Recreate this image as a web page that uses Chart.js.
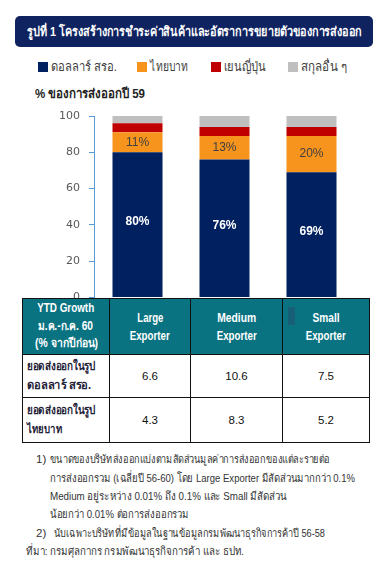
<!DOCTYPE html>
<html>
<head>
<meta charset="utf-8">
<script src="https://cdn.jsdelivr.net/npm/chart.js@4.4.0/dist/chart.umd.min.js"></script>
<style>
  html, body { margin: 0; padding: 0; background: #fff; }
  body { width: 387px; height: 572px; position: relative; overflow: hidden; font-family: "Liberation Sans", "Noto Sans", sans-serif; }
  [data-w] { white-space: nowrap; display: inline-block; transform-origin: left center; }
  .center [data-w] { transform-origin: center center; }
  .title { position: absolute; left: 15px; top: 16px; width: 358px; height: 31px; background: #0f2361; border-radius: 5px;
    color: #fff; font-weight: bold; font-size: 13px; line-height: 31px; white-space: nowrap; overflow: hidden; }
  .title span { position: absolute; left: 12px; top: 0; }
  .legend { position: absolute; top: 59px; left: 0; width: 387px; height: 16px; }
  .legend span { position: absolute; font-size: 13px; color: #404040; line-height: 16px; top: 0; }
  .legend i { position: absolute; width: 10px; height: 10px; top: 3px; }
  .ylabel { position: absolute; left: 35px; top: 86px; font-size: 13px; font-weight: bold; color: #222; line-height: 16px; }
  #chart { position: absolute; left: 0; top: 100px; }
  table { position: absolute; left: 22px; top: 298px; width: 347px; border-collapse: collapse; table-layout: fixed; background: #fff; }
  td, th { border: 1.5px solid #111; padding: 0; text-align: center; font-size: 12px; box-sizing: border-box; overflow: visible; }
  th { background: #0a7382; color: #fff; font-weight: bold; line-height: 17.5px; height: 56px; }
  th.wide { line-height: 18px; }
  td { color: #111; font-size: 11.5px; }
  tr.r1 td { height: 43px; }
  tr.r2 td { height: 45px; }
  td.rowhead { text-align: left; padding-left: 4px; font-size: 12px; font-weight: bold; line-height: 19.5px; color: #1e2138; }
  .mark { position: absolute; left: 288px; top: 307px; width: 7px; height: 18px; background: #165f77; }
  .notes { position: absolute; left: 0; top: 450px; font-size: 11.5px; color: #333; }
  .notes span { position: absolute; line-height: 18px; }
</style>
</head>
<body>
<div class="title"><span data-w="335">รูปที่ 1 โครงสร้างการชำระค่าสินค้าและอัตราการขยายตัวของการส่งออก</span></div>
<div class="legend" id="legend"></div>
<div class="ylabel"><span data-w="110">% ของการส่งออกปี 59</span></div>
<canvas id="chart" width="387" height="213"></canvas>
<table id="growthTable"></table>
<div class="mark"></div>
<div class="notes">
  <span style="left:36px;top:0px">1)</span>
  <span style="left:50px;top:0px" data-w="280">ขนาดของบริษัทส่งออกแบ่งตามสัดส่วนมูลค่าการส่งออกของแต่ละรายต่อ</span>
  <span style="left:50px;top:18.5px" data-w="305">การส่งออกรวม (เฉลี่ยปี 56-60) โดย Large Exporter มีสัดส่วนมากกว่า 0.1%</span>
  <span style="left:50px;top:37px" data-w="237">Medium อยู่ระหว่าง 0.01% ถึง 0.1% และ Small มีสัดส่วน</span>
  <span style="left:50px;top:55px" data-w="139">น้อยกว่า 0.01% ต่อการส่งออกรวม</span>
  <span style="left:36px;top:73.5px">2)</span>
  <span style="left:54px;top:73.5px" data-w="271">นับเฉพาะบริษัทที่มีข้อมูลในฐานข้อมูลกรมพัฒนาธุรกิจการค้าปี 56-58</span>
  <span style="left:26px;top:92px" data-w="218">ที่มา: กรมศุลกากร กรมพัฒนาธุรกิจการค้า และ ธปท.</span>
</div>
<script>
  const categories = ['Large Exporter', 'Medium Exporter', 'Small Exporter'];
  const seriesNames = ['ดอลลาร์ สรอ.', 'ไทยบาท', 'เยนญี่ปุ่น', 'สกุลอื่น ๆ'];
  const seriesColors = ['#002060', '#f7941d', '#c00000', '#bfbfbf'];
  const usdShare = [80, 76, 69];
  const thbShare = [11, 13, 20];
  const jpyShare = [5, 5, 5];
  const otherShare = [4, 6, 6];
  const yTicks = [0, 20, 40, 60, 80, 100];

  const headerLines = [['YTD Growth', 'ม.ค.-ก.ค. 60', '(% จากปีก่อน)'], ['Large', 'Exporter'], ['Medium', 'Exporter'], ['Small', 'Exporter']];
  const rowLabels = [['ยอดส่งออกในรูป', 'ดอลลาร์ สรอ.'], ['ยอดส่งออกในรูป', 'ไทยบาท']];
  const growthUsd = [6.6, 10.6, 7.5];
  const growthThb = [4.3, 8.3, 5.2];

  // widths of each text line in the reference, the fallback fonts are squeezed to them
  const legendTextW = [66, 38, 42, 46];
  const headerTextW = [[57, 55, 63], [26, 40], [39, 40], [27, 40]];
  const rowLabelW = [[69, 64], [69, 35]];

  // legend
  const legendPos = [[38, 51], [137, 150], [211, 224], [288, 301]];
  document.getElementById('legend').innerHTML = seriesNames.map((name, i) =>
    `<i style="left:${legendPos[i][0]}px;background:${seriesColors[i]}"></i>` +
    `<span style="left:${legendPos[i][1]}px" data-w="${legendTextW[i]}">${name}</span>`).join('');

  // table
  const colWidths = [87, 81, 92, 87];
  const lines = (arr, ws) => arr.map((t, i) => `<span data-w="${ws[i]}">${t}</span>`).join('<br>');
  const table = document.getElementById('growthTable');
  table.innerHTML =
    '<colgroup>' + colWidths.map((w) => `<col style="width:${w}px">`).join('') + '</colgroup>' +
    '<tr class="center">' + headerLines.map((h, i) => `<th class="${i ? 'wide' : ''}">${lines(h, headerTextW[i])}</th>`).join('') + '</tr>' +
    [growthUsd, growthThb].map((row, r) =>
      `<tr class="r${r + 1}"><td class="rowhead">${lines(rowLabels[r], rowLabelW[r])}</td>` +
      row.map((v) => `<td>${v.toFixed(1)}</td>`).join('') + '</tr>'
    ).join('');

  document.querySelectorAll('[data-w]').forEach((el) => {
    const w = el.getBoundingClientRect().width;
    if (w > 0) el.style.transform = `scaleX(${(parseFloat(el.dataset.w) / w).toFixed(4)})`;
  });

  const barLabels = {
    id: 'barLabels',
    afterDatasetsDraw(chart) {
      const ctx = chart.ctx;
      ctx.save();
      ctx.textAlign = 'center';
      ctx.textBaseline = 'middle';
      [0, 1].forEach((di) => {
        const meta = chart.getDatasetMeta(di);
        const values = chart.data.datasets[di].data;
        meta.data.forEach((bar, i) => {
          const { x, y, base } = bar.getProps(['x', 'y', 'base'], true);
          if (di === 0) {
            ctx.font = 'bold 12px "Liberation Sans", Arial, sans-serif';
            ctx.fillStyle = '#ffffff';
          } else {
            ctx.font = '12px "Liberation Sans", Arial, sans-serif';
            ctx.fillStyle = '#404040';
          }
          ctx.fillText(values[i] + '%', x, (y + base) / 2 - (di === 0 ? 3 : 0));
        });
      });
      ctx.restore();
    }
  };

  const datasets = [usdShare, thbShare, jpyShare, otherShare].map((data, i) => ({
    label: seriesNames[i],
    data,
    backgroundColor: seriesColors[i],
    borderWidth: 0,
    barPercentage: 0.575,
    categoryPercentage: 1
  }));

  new Chart(document.getElementById('chart'), {
    type: 'bar',
    data: { labels: categories, datasets },
    options: {
      responsive: false,
      animation: false,
      layout: { padding: { left: 0, right: 32, top: 16, bottom: 0 } },
      plugins: { legend: { display: false }, tooltip: { enabled: false } },
      scales: {
        x: { stacked: true, display: false },
        y: {
          stacked: true,
          min: 0,
          max: 100,
          afterFit(scale) { scale.width = 94; },
          afterBuildTicks(scale) { scale.ticks = yTicks.map((v) => ({ value: v })); },
          ticks: { color: '#595959', padding: 9, font: { family: '"DejaVu Sans", Verdana, sans-serif', size: 11 } },
          grid: { drawOnChartArea: false, color: '#5b9bd5', tickLength: 5 },
          border: { color: '#5b9bd5', width: 1 }
        }
      }
    },
    plugins: [barLabels]
  });
</script>
</body>
</html>
